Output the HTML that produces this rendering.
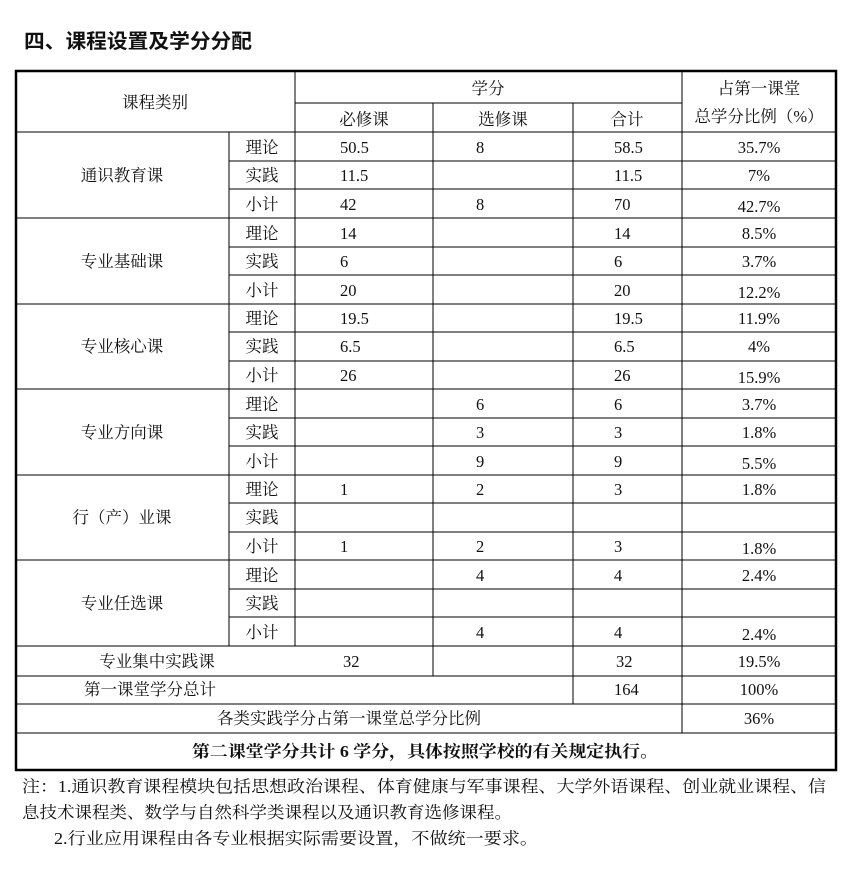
<!DOCTYPE html>
<html><head><meta charset="utf-8"><style>
body{margin:0;background:#fff;width:851px;height:874px;overflow:hidden}
svg text{font-family:"Liberation Serif","Noto Serif CJK SC",serif;font-size:16.5px;fill:#111}
</style></head><body>
<svg width="851" height="874" xmlns="http://www.w3.org/2000/svg">
<text x="24" y="48" textLength="228" lengthAdjust="spacingAndGlyphs" style="font-family:'Liberation Sans','Noto Sans CJK SC',sans-serif;font-size:20px;font-weight:bold">四、课程设置及学分分配</text>
<g stroke="#000" stroke-width="1">
<line x1="295" y1="71" x2="295" y2="646"/>
<line x1="682" y1="71" x2="682" y2="733"/>
<line x1="295" y1="103" x2="682" y2="103"/>
<line x1="433" y1="103" x2="433" y2="676"/>
<line x1="573" y1="103" x2="573" y2="704"/>
<line x1="16" y1="132" x2="836" y2="132"/>
<line x1="229" y1="132" x2="229" y2="646"/>
<line x1="229" y1="161" x2="836" y2="161"/><line x1="229" y1="189" x2="836" y2="189"/><line x1="16" y1="218" x2="836" y2="218"/>
<line x1="229" y1="247" x2="836" y2="247"/><line x1="229" y1="275" x2="836" y2="275"/><line x1="16" y1="304" x2="836" y2="304"/>
<line x1="229" y1="332" x2="836" y2="332"/><line x1="229" y1="361" x2="836" y2="361"/><line x1="16" y1="389" x2="836" y2="389"/>
<line x1="229" y1="418" x2="836" y2="418"/><line x1="229" y1="446" x2="836" y2="446"/><line x1="16" y1="475" x2="836" y2="475"/>
<line x1="229" y1="503" x2="836" y2="503"/><line x1="229" y1="532" x2="836" y2="532"/><line x1="16" y1="560" x2="836" y2="560"/>
<line x1="229" y1="589" x2="836" y2="589"/><line x1="229" y1="617" x2="836" y2="617"/><line x1="16" y1="646" x2="836" y2="646"/>
<line x1="16" y1="676" x2="836" y2="676"/><line x1="16" y1="704" x2="836" y2="704"/><line x1="16" y1="733" x2="836" y2="733"/>
</g>
<rect x="16" y="71" width="820" height="699" fill="none" stroke="#000" stroke-width="2.5"/>
<g text-anchor="middle">
<text x="155" y="108">课程类别</text>
<text x="488" y="94">学分</text>
<text x="364" y="125">必修课</text><text x="503" y="125">选修课</text><text x="627" y="125">合计</text>
<text x="759" y="94">占第一课堂</text><text x="759" y="122">总学分比例（%）</text>
<text x="122" y="181">通识教育课</text>
<text x="122" y="267">专业基础课</text>
<text x="122" y="352">专业核心课</text>
<text x="122" y="438">专业方向课</text>
<text x="122" y="523">行（产）业课</text>
<text x="122" y="609">专业任选课</text>
<text x="157" y="667">专业集中实践课</text>
<text x="150" y="695">第一课堂学分总计</text>
<text x="349" y="724">各类实践学分占第一课堂总学分比例</text>
<text x="759" y="724">36%</text>
</g>
<text x="192" y="757" textLength="466" lengthAdjust="spacingAndGlyphs" style="font-weight:bold">第二课堂学分共计 6 学分，具体按照学校的有关规定执行。</text>
<g text-anchor="middle">
<text x="262" y="153">理论</text><text x="262" y="181">实践</text><text x="262" y="210">小计</text>
<text x="262" y="239">理论</text><text x="262" y="267">实践</text><text x="262" y="296">小计</text>
<text x="262" y="324">理论</text><text x="262" y="352">实践</text><text x="262" y="381">小计</text>
<text x="262" y="410">理论</text><text x="262" y="438">实践</text><text x="262" y="467">小计</text>
<text x="262" y="495">理论</text><text x="262" y="523">实践</text><text x="262" y="552">小计</text>
<text x="262" y="581">理论</text><text x="262" y="609">实践</text><text x="262" y="638">小计</text>
<text x="759" y="153">35.7%</text><text x="759" y="181">7%</text><text x="759" y="212">42.7%</text>
<text x="759" y="239">8.5%</text><text x="759" y="267">3.7%</text><text x="759" y="298">12.2%</text>
<text x="759" y="324">11.9%</text><text x="759" y="352">4%</text><text x="759" y="383">15.9%</text>
<text x="759" y="410">3.7%</text><text x="759" y="438">1.8%</text><text x="759" y="469">5.5%</text>
<text x="759" y="495">1.8%</text><text x="759" y="554">1.8%</text>
<text x="759" y="581">2.4%</text><text x="759" y="640">2.4%</text>
<text x="759" y="667">19.5%</text><text x="759" y="695">100%</text>
</g>
<g>
<text x="340" y="153">50.5</text><text x="476" y="153">8</text><text x="614" y="153">58.5</text>
<text x="340" y="181">11.5</text><text x="614" y="181">11.5</text>
<text x="340" y="210">42</text><text x="476" y="210">8</text><text x="614" y="210">70</text>
<text x="340" y="239">14</text><text x="614" y="239">14</text>
<text x="340" y="267">6</text><text x="614" y="267">6</text>
<text x="340" y="296">20</text><text x="614" y="296">20</text>
<text x="340" y="324">19.5</text><text x="614" y="324">19.5</text>
<text x="340" y="352">6.5</text><text x="614" y="352">6.5</text>
<text x="340" y="381">26</text><text x="614" y="381">26</text>
<text x="476" y="410">6</text><text x="614" y="410">6</text>
<text x="476" y="438">3</text><text x="614" y="438">3</text>
<text x="476" y="467">9</text><text x="614" y="467">9</text>
<text x="340" y="495">1</text><text x="476" y="495">2</text><text x="614" y="495">3</text>
<text x="340" y="552">1</text><text x="476" y="552">2</text><text x="614" y="552">3</text>
<text x="476" y="581">4</text><text x="614" y="581">4</text>
<text x="476" y="638">4</text><text x="614" y="638">4</text>
<text x="343" y="667">32</text><text x="616" y="667">32</text>
<text x="614" y="695">164</text>
</g>
<text x="22" y="792" textLength="804" lengthAdjust="spacingAndGlyphs">注：1.通识教育课程模块包括思想政治课程、体育健康与军事课程、大学外语课程、创业就业课程、信</text>
<text x="22" y="818" textLength="490" lengthAdjust="spacingAndGlyphs">息技术课程类、数学与自然科学类课程以及通识教育选修课程。</text>
<text x="54" y="844" textLength="484" lengthAdjust="spacingAndGlyphs">2.行业应用课程由各专业根据实际需要设置，不做统一要求。</text>
</svg>
</body></html>
